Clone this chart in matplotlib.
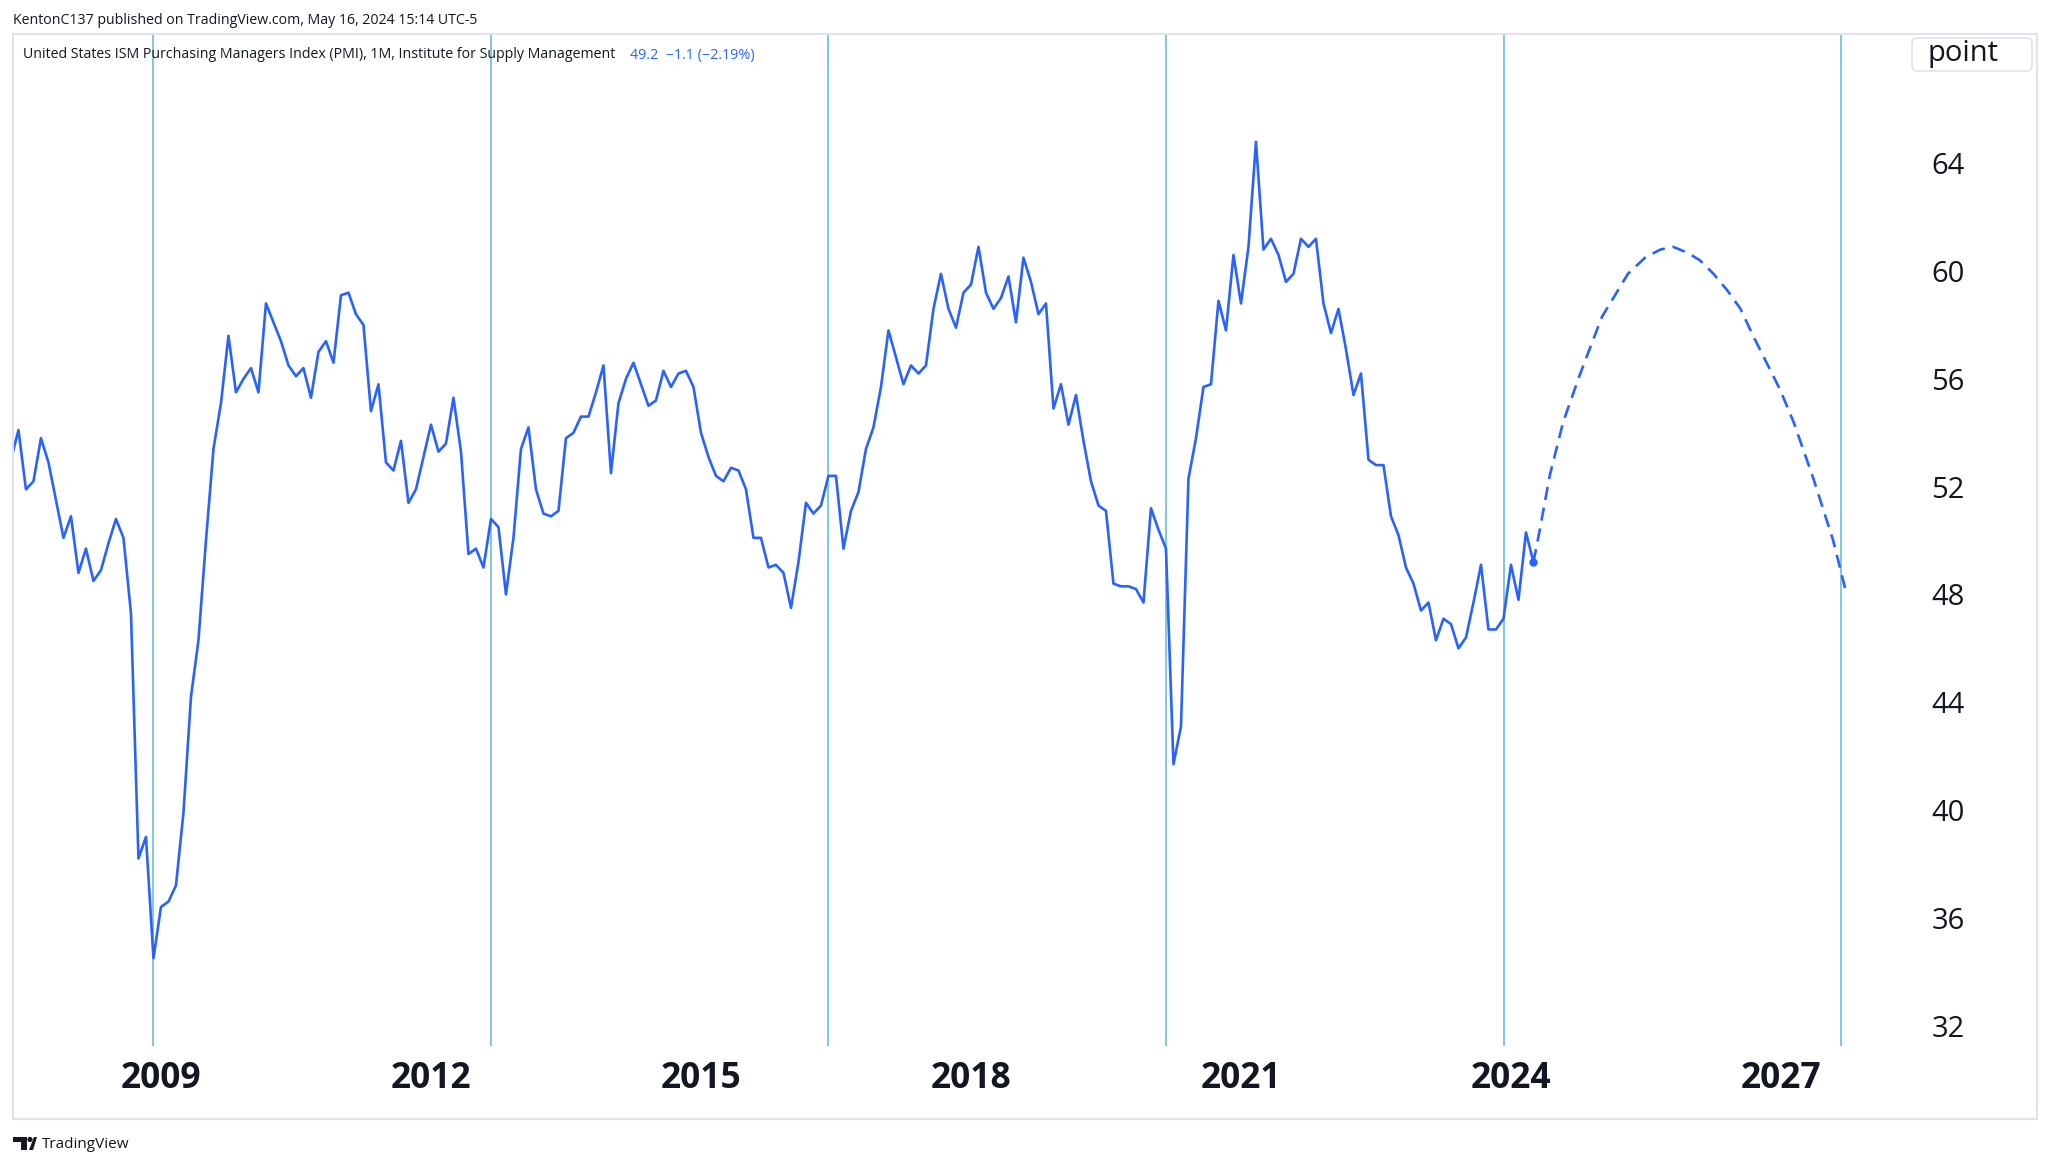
import numpy as np
import matplotlib.pyplot as plt
from matplotlib.patches import Rectangle, FancyBboxPatch, Polygon, Circle
from matplotlib.transforms import IdentityTransform

plt.rcParams['font.family'] = ['Open Sans', 'DejaVu Sans']

W, H = 2050, 1163

# ISM PMI, monthly, first value = May 2007
start_year, start_month = 2007, 5
pmi = [53.0, 54.1, 51.9, 52.2, 53.8, 52.9, 51.5, 50.1,
       50.9, 48.8, 49.7, 48.5, 48.9, 49.9, 50.8, 50.1, 47.3, 38.2, 39.0, 34.5,
       36.4, 36.6, 37.2, 39.9, 44.2, 46.3, 50.0, 53.4, 55.1, 57.6, 55.5, 56.0,
       56.4, 55.5, 58.8, 58.1, 57.4, 56.5, 56.1, 56.4, 55.3, 57.0, 57.4, 56.6,
       59.1, 59.2, 58.4, 58.0, 54.8, 55.8, 52.9, 52.6, 53.7, 51.4, 51.9, 53.1,
       54.3, 53.3, 53.6, 55.3, 53.3, 49.5, 49.7, 49.0, 50.8, 50.5, 48.0, 50.1,
       53.4, 54.2, 51.9, 51.0, 50.9, 51.1, 53.8, 54.0, 54.6, 54.6, 55.5, 56.5,
       52.5, 55.1, 56.0, 56.6, 55.8, 55.0, 55.2, 56.3, 55.7, 56.2, 56.3, 55.7,
       54.0, 53.1, 52.4, 52.2, 52.7, 52.6, 51.9, 50.1, 50.1, 49.0, 49.1, 48.8,
       47.5, 49.2, 51.4, 51.0, 51.3, 52.4, 52.4, 49.7, 51.1, 51.8, 53.4, 54.2,
       55.7, 57.8, 56.8, 55.8, 56.5, 56.2, 56.5, 58.6, 59.9, 58.6, 57.9, 59.2,
       59.5, 60.9, 59.2, 58.6, 59.0, 59.8, 58.1, 60.5, 59.6, 58.4, 58.8, 54.9,
       55.8, 54.3, 55.4, 53.7, 52.2, 51.3, 51.1, 48.4, 48.3, 48.3, 48.2, 47.7,
       51.2, 50.4, 49.7, 41.7, 43.1, 52.3, 53.8, 55.7, 55.8, 58.9, 57.8, 60.6,
       58.8, 60.9, 64.8, 60.8, 61.2, 60.6, 59.6, 59.9, 61.2, 60.9, 61.2, 58.8,
       57.7, 58.6, 57.1, 55.4, 56.2, 53.0, 52.8, 52.8, 50.9, 50.2, 49.0, 48.4,
       47.4, 47.7, 46.3, 47.1, 46.9, 46.0, 46.4, 47.7, 49.1, 46.7, 46.7, 47.1,
       49.1, 47.8, 50.3, 49.2]

# hand-drawn projection (dashed arc)
proj_year = [2024.25, 2024.32, 2024.43, 2024.58, 2024.77, 2025.01, 2025.30,
             2025.49, 2025.66, 2025.80, 2025.95, 2026.10, 2026.25, 2026.40,
             2026.55, 2026.69, 2026.84, 2026.99, 2027.14, 2027.36, 2027.58, 2027.73]
proj_value = [49.2, 50.4, 52.4, 54.4, 56.2, 58.3, 59.9, 60.5, 60.8, 60.9, 60.7,
              60.4, 59.9, 59.3, 58.6, 57.6, 56.6, 55.6, 54.4, 52.3, 50.0, 48.0]

cycle_lines = [2008.917, 2012.667, 2016.417, 2020.167, 2023.917, 2027.667]
year_ticks = [2009, 2012, 2015, 2018, 2021, 2024, 2027]
value_ticks = [32, 36, 40, 44, 48, 52, 56, 60, 64]

t = start_year + (start_month - 1 + np.arange(len(pmi))) / 12

blue = '#2962ff'
dark = '#131722'

def fx(px):
    return px / W

def fy(py):
    return 1 - py / H

fig = plt.figure(figsize=(W / 100, H / 100), dpi=100)
fig.patch.set_facecolor('white')

ax = fig.add_axes([fx(13), fy(1046), fx(1905) - fx(13), fy(34) - fy(1046)])
ax.set_xlim(2007.356, 2028.378)
ax.set_ylim(31.24, 68.8)
for s in ax.spines.values():
    s.set_visible(False)

for c in cycle_lines:
    ax.axvline(c, color='#7fc8d8', lw=1.4, zorder=1)

ax.plot(t, pmi, color=blue, lw=1.9, zorder=3)
ax.plot(proj_year, proj_value, color=blue, lw=1.9, dashes=(5, 3), zorder=3)
ax.plot(t[-1], pmi[-1], 'o', color=blue, ms=5, zorder=4)

ax.set_xticks(year_ticks, labels=[str(y) for y in year_ticks],
              fontsize=25.5, fontweight='bold', color=dark)
ax.tick_params(axis='x', length=0, pad=11)
ax.yaxis.tick_right()
ax.set_yticks(value_ticks, labels=[str(v) for v in value_ticks],
              fontsize=21, color=dark, ha='center')
ax.tick_params(axis='y', length=0, pad=31)

idt = IdentityTransform()
# frame around chart
fig.add_artist(Rectangle((13, H - 1119), 2037 - 13, 1119 - 34,
                         transform=idt, fill=False, ec='#e0e3eb', lw=1.5))
# unit box
fig.add_artist(FancyBboxPatch((1912, H - 71), 120, 33,
                              boxstyle='round,pad=0,rounding_size=5',
                              transform=idt, fc='white', ec='#e0e3eb', lw=1.2))
fig.text(fx(1963), fy(53), 'point', fontsize=21, color=dark,
         ha='center', va='center')

fig.text(fx(13), fy(20), 'KentonC137 published on TradingView.com, May 16, 2024 15:14 UTC-5',
         fontsize=10.2, color=dark, ha='left', va='center')
fig.text(fx(23), fy(55), 'United States ISM Purchasing Managers Index (PMI), 1M, Institute for Supply Management',
         fontsize=10.2, color=dark, ha='left', va='center')
fig.text(fx(630), fy(55), '49.2  \u22121.1 (\u22122.19%)',
         fontsize=10.4, color=blue, ha='left', va='center')

# TradingView logo
fig.add_artist(Polygon([(13, H - 1137), (27, H - 1137), (27, H - 1150),
                        (21, H - 1150), (21, H - 1142), (13, H - 1142)],
                       closed=True, transform=idt, fc=dark, ec='none'))
fig.add_artist(Circle((30, H - 1139.5), 2.6, transform=idt, fc=dark, ec='none'))
fig.add_artist(Polygon([(29, H - 1150), (34, H - 1137), (37, H - 1137), (33, H - 1150)],
                       closed=True, transform=idt, fc=dark, ec='none'))
fig.text(fx(42), fy(1144), 'TradingView', fontsize=11, color=dark,
         ha='left', va='center')

fig.savefig('out.png', dpi=100)
